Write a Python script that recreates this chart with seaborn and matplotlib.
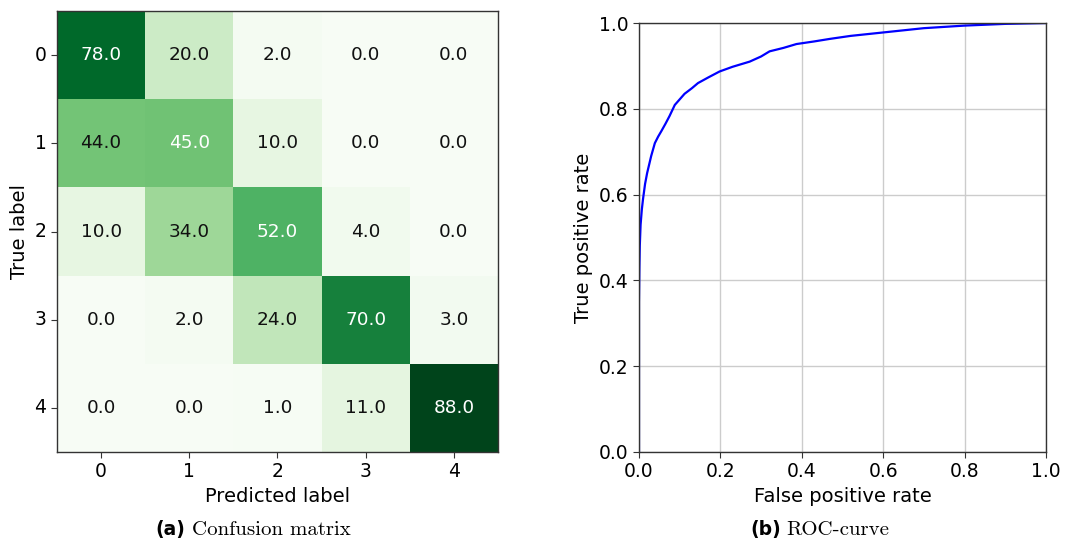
import numpy as np
import pandas as pd
import matplotlib
matplotlib.use("Agg")
import matplotlib.pyplot as plt
import seaborn as sns

# ---- data ----
class_labels = ["0", "1", "2", "3", "4"]
row0 = [78.0, 20.0, 2.0, 0.0, 0.0]
row1 = [44.0, 45.0, 10.0, 0.0, 0.0]
row2 = [10.0, 34.0, 52.0, 4.0, 0.0]
row3 = [0.0, 2.0, 24.0, 70.0, 3.0]
row4 = [0.0, 0.0, 1.0, 11.0, 88.0]

roc_fpr = [0.0, 0.0, 0.001, 0.002, 0.004, 0.007, 0.01, 0.015, 0.02, 0.03, 0.039,
           0.047, 0.055, 0.065, 0.075, 0.088, 0.10, 0.112, 0.13, 0.145, 0.17, 0.198,
           0.23, 0.272, 0.30, 0.321, 0.355, 0.387, 0.43, 0.469, 0.52, 0.60, 0.65,
           0.70, 0.75, 0.80, 0.85, 0.90, 0.95, 1.0]
roc_tpr = [0.0, 0.35, 0.43, 0.48, 0.53, 0.565, 0.59, 0.625, 0.65, 0.69, 0.72,
           0.735, 0.748, 0.765, 0.783, 0.809, 0.822, 0.835, 0.848, 0.86, 0.873, 0.887,
           0.898, 0.91, 0.922, 0.934, 0.942, 0.951, 0.957, 0.963, 0.97, 0.978, 0.983,
           0.988, 0.991, 0.994, 0.996, 0.998, 0.999, 1.0]

cm = pd.DataFrame([row0, row1, row2, row3, row4], index=class_labels, columns=class_labels)
roc = pd.DataFrame({"fpr": roc_fpr, "tpr": roc_tpr})

plt.rcParams["font.family"] = ["DejaVu Sans"]
fig = plt.figure(figsize=(10.73, 5.43), dpi=100)

TICK = 13.5
LAB = 14

# ---- confusion matrix ----
ax1 = fig.add_axes([0.0531, 0.1676, 0.411, 0.812])
sns.heatmap(cm, ax=ax1, cmap="Greens", vmin=0, vmax=88, cbar=False,
            annot=True, fmt=".1f", annot_kws={"fontsize": 13.3}, square=False)
thresh = cm.values.max() / 2.0
for t in ax1.texts:
    v = float(t.get_text())
    t.set_color("white" if v > thresh else "#111111")
for s in ax1.spines.values():
    s.set_visible(True)
    s.set_color("#333333")
    s.set_linewidth(1.0)
ax1.tick_params(axis="both", which="both", length=4, width=0.8, labelsize=TICK,
                bottom=True, left=True, color="#333333")
ax1.set_yticklabels(class_labels, rotation=0)
ax1.set_xticklabels(class_labels, rotation=0)
ax1.set_xlabel("Predicted label", fontsize=LAB)
ax1.set_ylabel("True label", fontsize=LAB)

# ---- ROC curve ----
ax2 = fig.add_axes([0.5955, 0.1676, 0.3793, 0.790])
sns.lineplot(data=roc, x="fpr", y="tpr", ax=ax2, color="#0000ff", lw=1.6,
             sort=False, estimator=None)
ax2.set_xlim(0, 1)
ax2.set_ylim(0, 1)
ax2.set_xticks(np.arange(0, 1.01, 0.2))
ax2.set_yticks(np.arange(0, 1.01, 0.2))
ax2.grid(True, color="#cccccc", linewidth=1.0)
ax2.set_axisbelow(True)
for s in ax2.spines.values():
    s.set_color("#333333")
    s.set_linewidth(1.0)
ax2.tick_params(axis="both", length=4, width=0.8, labelsize=TICK, color="#333333")
ax2.set_xlabel("False positive rate", fontsize=LAB)
ax2.set_ylabel("True positive rate", fontsize=LAB)

# ---- captions ----
fig.text(0.1445, 0.014, "(a)", fontsize=13.5, fontweight="bold", family="DejaVu Sans",
         va="baseline")
fig.text(0.179, 0.014, "Confusion matrix", fontsize=15, family="cmr10", va="baseline")
fig.text(0.699, 0.014, "(b)", fontsize=13.5, fontweight="bold", family="DejaVu Sans",
         va="baseline")
fig.text(0.7325, 0.014, "ROC-curve", fontsize=15, family="cmr10", va="baseline")

fig.savefig("out.png", dpi=100)
